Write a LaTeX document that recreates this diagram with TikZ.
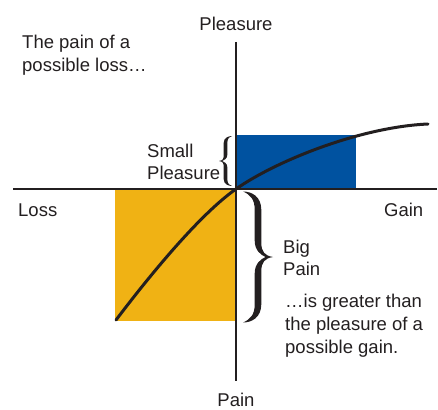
\documentclass[tikz,border=0pt]{standalone}
\usepackage{fontspec}
\setmainfont{Liberation Sans}
\definecolor{inkc}{RGB}{35,31,32}
\definecolor{blueq}{RGB}{0,82,160}
\definecolor{goldq}{RGB}{240,178,20}
\tikzset{
  lbl/.style={inner sep=0pt, anchor=base west, font=\fontsize{18.5}{22}\selectfont, text=inkc},
  lblc/.style={lbl, anchor=base},
  axisline/.style={draw=inkc, line width=1.2pt},
  curveline/.style={draw=inkc, line width=3pt, line cap=round},
  pics/brc/.style={code={
    \fill[inkc] (0,1) .. controls (0.3,1) and (0.5+#1,0.92) .. (0.5+#1,0.72)
      -- (0.5+#1,0.22) .. controls (0.5+#1,0.08) and (0.72,0.02) .. (1,0)
      .. controls (0.72,-0.02) and (0.5+#1,-0.08) .. (0.5+#1,-0.22)
      -- (0.5+#1,-0.72) .. controls (0.5+#1,-0.92) and (0.3,-1) .. (0,-1)
      .. controls (0.25,-0.95) and (0.5-#1,-0.88) .. (0.5-#1,-0.72)
      -- (0.5-#1,-0.25) .. controls (0.5-#1,-0.1) and (0.6,-0.03) .. (0.75,0)
      .. controls (0.6,0.03) and (0.5-#1,0.1) .. (0.5-#1,0.25)
      -- (0.5-#1,0.72) .. controls (0.5-#1,0.88) and (0.25,0.95) .. (0,1) -- cycle;
  }}
}
\begin{document}
\begin{tikzpicture}[x=1pt,y=-1pt]
\useasboundingbox (0,0) rectangle (438,409);
% coordinates
\coordinate (O) at (236,189);
\coordinate (yTop) at (236,42);
\coordinate (yBot) at (236,381);
\coordinate (xL) at (13,189);
\coordinate (xR) at (437,189);
\coordinate (cStart) at (116,320);
\coordinate (cEnd) at (428,124);
% rectangles
\fill[blueq] (O) rectangle (356,135);
\fill[goldq] (115,321) rectangle (O);
% axes
\draw[axisline] (yTop) -- (yBot);
\draw[axisline] (xL) -- (xR);
% value curve
\draw[curveline] (cStart) .. controls (141,287) and (196,217) .. (O)
  .. controls (276,161) and (360,127) .. (cEnd);
% braces
\pic (bLeft) [xscale=-13, yscale=25] at (232,161) {brc=0.14};
\pic (bRight) [xscale=30, yscale=65.5] at (243,257) {brc=0.11};
% labels
\node[lblc] (tPleasure) at (236,31) {Pleasure};
\node[lblc] (tPain) at (236,406) {Pain};
\node[lbl] (tLoss) at (18,216) {Loss};
\node[lbl] (tGain) at (384,216) {Gain};
\node[lbl] (tA1) at (22,49) {The pain of a};
\node[lbl] (tA2) at (22,72) {possible loss\ldots};
\node[lbl] (tS1) at (147,157) {Small};
\node[lbl] (tS2) at (147,179) {Pleasure};
\node[lbl] (tB1) at (283,253) {Big};
\node[lbl] (tB2) at (283,275) {Pain};
\node[lbl] (tC1) at (285,307) {\ldots is greater than};
\node[lbl] (tC2) at (285,330) {the pleasure of a};
\node[lbl] (tC3) at (285,353) {possible gain.};
\end{tikzpicture}
\end{document}
